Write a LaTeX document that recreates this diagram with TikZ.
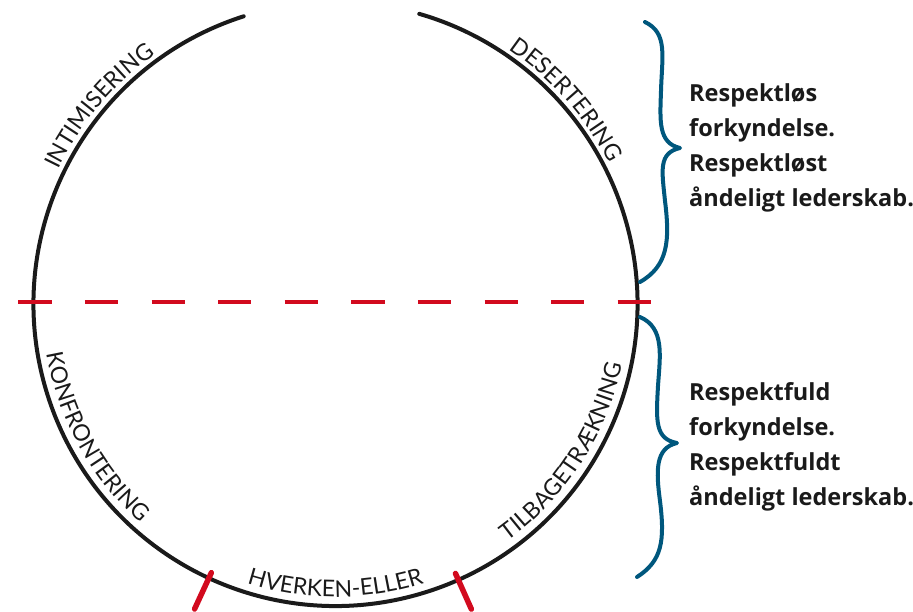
\documentclass[tikz,border=0pt]{standalone}
\usepackage{fontspec}
\setmainfont{Lato}
\newfontfamily\notefamily{Open Sans}
\usetikzlibrary{decorations.text,calc}
\definecolor{ink}{HTML}{1A1A1A}
\definecolor{bracecol}{HTML}{00577D}
\definecolor{redline}{HTML}{D20A1E}
\newcommand\lblfont{\fontsize{23pt}{23pt}\selectfont}
\newcommand\txtfont{\notefamily\bfseries\fontsize{23.5pt}{35pt}\selectfont}
\begin{document}
\begin{tikzpicture}[x=1pt,y=1pt,
 circ/.style={line width=4pt, draw=ink, line cap=round},
 tickmark/.style={line width=5.5pt, draw=redline, line cap=round},
 divider/.style={line width=4pt, draw=redline, dash pattern=on 33.3pt off 33.3pt},
 brace/.style={line width=4pt, draw=bracecol, line cap=round, line join=round},
 lbl/.style={decorate, decoration={text along path, text align=center, text color=ink}},
 note/.style={anchor=west, inner sep=0pt, align=left, font=\txtfont, text=ink}]
\useasboundingbox (0,0) rectangle (913,611);
\coordinate (c) at (335.5,307);
% circle with gap at top
\draw[circ] ($(c)+(107.7:302)$) arc[start angle=107.7, end angle=433.9, radius=302];
% divider
\coordinate (dl) at (18.3,309);
\coordinate (dr) at (651.7,309);
\draw[divider] (dl) -- (dr);
% ticks
\draw[tickmark] ($(c)+(245.2:296)$) -- ($(c)+(245.2:336)$);
\draw[tickmark] ($(c)+(294:295)$) -- ($(c)+(294:334)$);
% labels along the circle
\path[lbl, decoration={text={|\lblfont|INTIMISERING}}]
  ($(c)+(170:308)$) arc[start angle=170, end angle=110, radius=308];
\path[lbl, decoration={text={|\lblfont|DESERTERING}}]
  ($(c)+(71.5:308)$) arc[start angle=71.5, end angle=11.5, radius=308];
\path[lbl, decoration={text={|\lblfont|KONFRONTERING}}]
  ($(c)+(179:293)$) arc[start angle=179, end angle=239, radius=293];
\path[lbl, decoration={text={|\lblfont|HVERKEN-ELLER}}]
  ($(c)+(240:293)$) arc[start angle=240, end angle=300, radius=293];
\path[lbl, decoration={text={|\lblfont|TILBAGETRÆKNING}}]
  ($(c)+(297:293)$) arc[start angle=297, end angle=357, radius=293];
% braces
\draw[brace] (645,589) .. controls (668,578) and (662,555) .. (661,520)
  .. controls (660,490) and (658,468) .. (680,463)
  .. controls (658,458) and (662,440) .. (665,410)
  .. controls (670,370) and (668,345) .. (640,329);
\draw[brace] (640,294) .. controls (665,283) and (660,255) .. (658,225)
  .. controls (656,190) and (655,172) .. (677,168)
  .. controls (655,163) and (656,140) .. (660,110)
  .. controls (665,70) and (662,50) .. (637,34);
% notes
\node[note] (t1) at (689,463) {Respektløs\\forkyndelse.\\Respektløst\\åndeligt lederskab.};
\node[note] (t2) at (689,164) {Respektfuld\\forkyndelse.\\Respektfuldt\\åndeligt lederskab.};
\end{tikzpicture}
\end{document}
